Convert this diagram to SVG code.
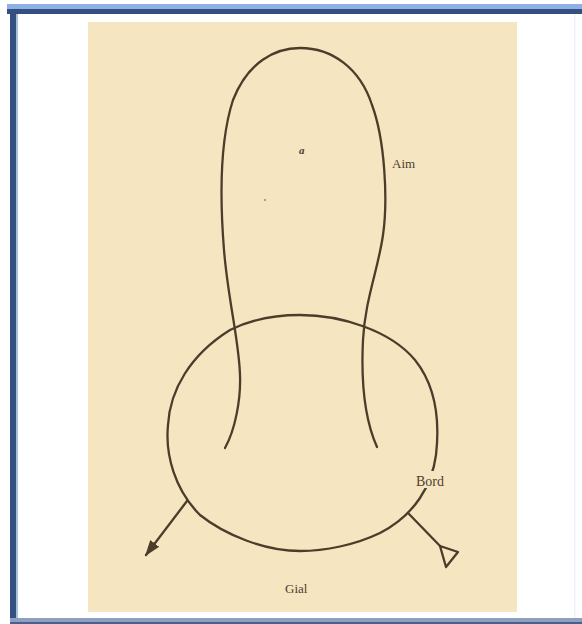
<svg xmlns="http://www.w3.org/2000/svg" width="582" height="624" viewBox="0 0 582 624">
  <defs>
    <style>
      .ink { fill: none; stroke: #4b3d2a; stroke-width: 2.3; stroke-linecap: round; stroke-linejoin: round; }
      .lbl { font-family: "Liberation Serif", "DejaVu Serif", serif; fill: #4e4030; }
    </style>
    <marker id="filledHead" viewBox="0 0 10 10" refX="9" refY="5" markerWidth="7" markerHeight="7" markerUnits="strokeWidth" orient="auto">
      <path d="M0,1.5 L10,5 L0,8.5 Z" fill="#4b3d2a"/>
    </marker>
  </defs>

  <!-- frame -->
  <rect x="0" y="0" width="582" height="624" fill="#ffffff"/>
  <rect x="7" y="4" width="575" height="5" fill="#8fb0e6"/>
  <rect x="7" y="9" width="575" height="5" fill="#34507e"/>
  <rect x="10" y="9" width="6" height="615" fill="#34507e"/>
  <rect x="16" y="14" width="2" height="610" fill="#a9bfe0"/>
  <rect x="10" y="618" width="572" height="6" fill="#8f9fc2"/>
  <rect x="10" y="622" width="572" height="2" fill="#4a5f8a"/>
  <rect x="574" y="14" width="1.5" height="604" fill="#eef3fb"/>

  <!-- paper -->
  <rect x="88" y="22" width="429" height="590" fill="#f5e5c1"/>

  <!-- tall loop -->
  <g id="flask">
    <path class="ink" d="M 225 448 C 235 430, 241 400, 240 375 C 239 340, 228 300, 224 250 C 220 200, 220 140, 233 100 C 248 62, 275 48, 300 48 C 332 48, 360 68, 372 105 C 385 140, 388 200, 383 235 C 378 270, 365 300, 363 340 C 361 380, 365 420, 377 447"/>
  </g>

  <!-- ring -->
  <g id="ring">
    <path class="ink" d="M 300 315 C 340 315, 390 330, 415 360 C 435 385, 440 420, 436 455 C 432 485, 415 515, 380 533 C 355 545, 325 551, 300 551 C 265 551, 225 535, 200 515 C 175 490, 165 455, 168 425 C 170 390, 190 355, 230 330 C 250 320, 275 315, 300 315 Z"/>
  </g>

  <!-- connectors -->
  <g id="connectors">
    <line class="ink" x1="187" y1="501" x2="146" y2="555" marker-end="url(#filledHead)"/>
    <line class="ink" x1="409" y1="514" x2="441" y2="547"/>
    <polygon class="ink" points="440,546 458,552 446,567"/>
  </g>

  <!-- labels -->
  <g id="labels">
    <text class="lbl" x="299" y="154" font-size="11" font-style="italic" font-weight="bold">a</text>
    <circle cx="265" cy="200" r="0.9" fill="#8a7a60"/>
    <text class="lbl" x="392" y="168" font-size="13">Aim</text>
    <rect x="416" y="471" width="32" height="17" fill="#f5e5c1"/>
    <text class="lbl" x="416" y="486" font-size="14">Bord</text>
    <text class="lbl" x="285" y="593" font-size="13">Gial</text>
  </g>
</svg>
